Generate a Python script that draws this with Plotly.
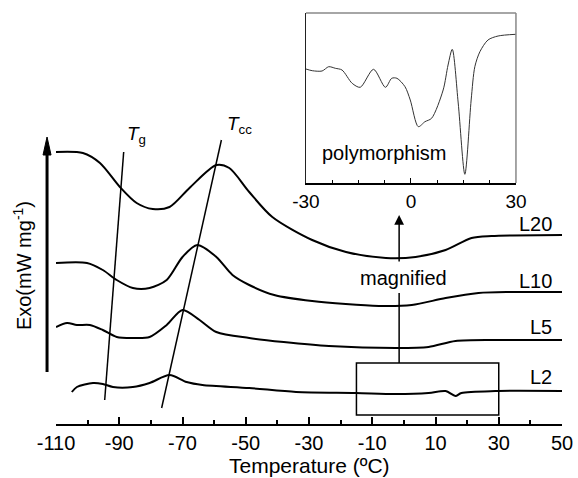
import plotly.graph_objects as go

FONT = "Arial, Liberation Sans, sans-serif"

# ---- main DSC curves (temperature in C, signal in arbitrary offset units) ----
l20_t = [-110, -101.5, -96.1, -89.8, -84.5, -79.4, -74.1, -67.8, -59.3, -55.2, -48.9, -41.6, -29, -18.3, -5.7, 3.7, 13.2, 21.4, 27.7, 50]
l20_y = [272, 271, 261, 237, 221, 215, 217, 236, 259, 256, 232, 207, 184, 172, 166, 167, 174, 186, 188, 189]

l10_t = [-110, -100.2, -95.2, -90.8, -85.7, -80.4, -75, -70, -65.3, -59.3, -54.2, -48.9, -41.0, -29, -7.9, 2.5, 13.2, 23.6, 34, 50]
l10_y = [161, 161, 154, 144, 136, 136, 144, 167, 179, 167, 149, 139, 129, 123, 118, 119, 126, 131, 132, 132]

l5_t = [-110, -106.5, -103.4, -99.3, -95.2, -90.8, -85.7, -80.4, -75, -70, -64.6, -59.3, -48.9, -38.0, -23.7, -2.6, 7.8, 16.3, 28.9, 50]
l5_y = [97, 101, 99, 99, 94, 87, 86, 87, 99, 114, 104, 92, 86, 82, 78, 76, 77, 83, 84, 84]

l2_t = [-105, -103.4, -98.3, -95.2, -92, -85.7, -80.4, -74.1, -68.7, -63.7, -48.9, -34.1, -15.2, -2.6, 7.8, 13.2, 16.3, 18.2, 28.9, 50]
l2_y = [32, 37, 41, 40, 37, 37, 41, 49, 42, 39, 36, 32, 31, 30, 31, 33, 28, 31, 33, 33]

series_names = ["L20", "L10", "L5", "L2"]
label_y = [200, 143, 97, 47]

# guide lines for Tg and Tcc (end points)
tg_t = [-88.6, -94.6]
tg_y = [272, 24]
tcc_t = [-57.7, -76.6]
tcc_y = [284, 16]

# magnified box
box_t = [-15, 30]
box_y = [9, 61]

# ---- inset: polymorphism region ----
ins_t = [-30, -28.2, -25.4, -23.5, -21.6, -19.7, -16.8, -14.5, -10.7, -7.3, -5.5, -4.0, -1.7, -0.2, 2.1, 4.0, 5.9,
         9.2, 10.6, 11.8, 13.5, 15.4, 17.2, 18.25, 19.7, 22.0, 24.9, 30]
ins_y = [114, 112.3, 112, 116.3, 114.7, 113, 99.7, 95.7, 113.7, 95.7, 104.7, 104.7, 96.3, 83, 56.3, 61.3, 64.7,
         93, 118, 133.7, 80, 8.7, 83, 116.3, 131.3, 143, 147, 148.7]

main_ticks = [-110, -90, -70, -50, -30, -10, 10, 30, 50]
main_ticktext = ["-110", "-90", "-70", "-50", "-30", "-10", "10", "30", "50"]
inset_ticks = [-30, 0, 30]
inset_ticktext = ["-30", "0", "30"]

fig = go.Figure()

for t, y in [(l20_t, l20_y), (l10_t, l10_y), (l5_t, l5_y), (l2_t, l2_y)]:
    fig.add_trace(go.Scatter(x=t, y=y, mode="lines", line=dict(color="black", width=2, shape="spline", smoothing=0.8),
                             hoverinfo="skip", showlegend=False))

for t, y in [(tg_t, tg_y), (tcc_t, tcc_y)]:
    fig.add_trace(go.Scatter(x=t, y=y, mode="lines", line=dict(color="black", width=1.5),
                             hoverinfo="skip", showlegend=False))

fig.add_trace(go.Scatter(x=ins_t, y=ins_y, xaxis="x2", yaxis="y2", mode="lines",
                         line=dict(color="#333333", width=1, shape="spline", smoothing=0.8),
                         hoverinfo="skip", showlegend=False))

# box
fig.add_shape(type="rect", xref="x", yref="y", x0=box_t[0], x1=box_t[1], y0=box_y[0], y1=box_y[1],
              line=dict(color="black", width=1.5))
# magnified arrow lower segment
fig.add_shape(type="line", xref="x", yref="y", x0=-1.5, x1=-1.5, y0=box_y[1], y1=131,
              line=dict(color="black", width=1.5))
# magnified arrow upper segment with head
fig.add_annotation(x=-1.5, y=209, ax=-1.5, ay=161, xref="x", yref="y", axref="x", ayref="y",
                   showarrow=True, arrowhead=2, arrowsize=1.3, arrowwidth=1.5, arrowcolor="black", text="")
fig.add_annotation(x=0, y=146, xref="x", yref="y", text="magnified", showarrow=False,
                   font=dict(family=FONT, size=20, color="black"))

# series labels
for name, ly in zip(series_names, label_y):
    fig.add_annotation(x=47.5, y=ly, xref="x", yref="y", text=name, showarrow=False, xanchor="right",
                       font=dict(family=FONT, size=20, color="black"))

# Tg / Tcc labels
fig.add_annotation(x=-84.5, y=289, xref="x", yref="y", text="<i>T</i><sub>g</sub>", showarrow=False,
                   font=dict(family=FONT, size=19, color="black"))
fig.add_annotation(x=-52.0, y=299, xref="x", yref="y", text="<i>T</i><sub>cc</sub>", showarrow=False,
                   font=dict(family=FONT, size=19, color="black"))

# y-axis arrow (shaft + head) in paper-x / data-y coordinates
fig.add_shape(type="line", xref="paper", yref="y", x0=-0.0177, x1=-0.0177, y0=52, y1=272,
              line=dict(color="black", width=3))
fig.add_shape(type="path", xref="paper", yref="y",
              path="M -0.0256,269 L -0.0098,269 L -0.0177,287 Z",
              fillcolor="black", line=dict(color="black", width=1))
fig.add_annotation(x=-0.067, y=158, xref="paper", yref="y", text="Exo(mW mg<sup>-1</sup>)", textangle=-90,
                   xanchor="center", yanchor="middle",
                   showarrow=False, font=dict(family=FONT, size=20, color="black"))

# x title
fig.add_annotation(x=0.5, y=-0.1, xref="paper", yref="paper", text="Temperature (ºC)", showarrow=False,
                   xanchor="center", yanchor="middle",
                   font=dict(family=FONT, size=21, color="black"))

# inset text
fig.add_annotation(x=-7.8, y=30, xref="x2", yref="y2", text="polymorphism", showarrow=False,
                   font=dict(family=FONT, size=20, color="black"))
# inset grey top/right frame
fig.add_shape(type="line", xref="x2 domain", yref="y2 domain", x0=0, x1=1, y0=1, y1=1,
              line=dict(color="#888888", width=1.5))
fig.add_shape(type="line", xref="x2 domain", yref="y2 domain", x0=1, x1=1, y0=0, y1=1,
              line=dict(color="#888888", width=1.5))

fig.update_layout(
    width=578, height=478,
    margin=dict(l=56, r=14, t=5, b=54),
    paper_bgcolor="white", plot_bgcolor="white",
    font=dict(family=FONT, color="black"),
    xaxis=dict(range=[-110, 50], showgrid=False, zeroline=False, showline=True, linecolor="black", linewidth=2,
               ticks="inside", ticklen=7, tickwidth=2, tickcolor="black", tickvals=main_ticks,
               ticktext=main_ticktext,
               tickfont=dict(family=FONT, size=20, color="black"),
               minor=dict(tick0=-110, dtick=10, ticks="inside", ticklen=4, tickwidth=2, tickcolor="black"),
               domain=[0, 1]),
    yaxis=dict(range=[0, 419], visible=False, domain=[0, 1]),
    xaxis2=dict(domain=[0.494, 0.909], anchor="y2", range=[-30, 30], showgrid=False, zeroline=False,
                showline=True, linecolor="black", linewidth=1.5, ticks="inside", ticklen=5, tickwidth=1,
                tickcolor="black", tickvals=inset_ticks, ticktext=inset_ticktext,
                tickfont=dict(family=FONT, size=19, color="black"),
                minor=dict(tick0=-30, dtick=7.5, ticks="inside", ticklen=3, tickwidth=1, tickcolor="black")),
    yaxis2=dict(domain=[0.5752, 0.9809], anchor="x2", range=[0, 170], showgrid=False, zeroline=False,
                showline=True, linecolor="#222222", linewidth=1, ticks="", showticklabels=False),
)

fig.write_html("out.html")
